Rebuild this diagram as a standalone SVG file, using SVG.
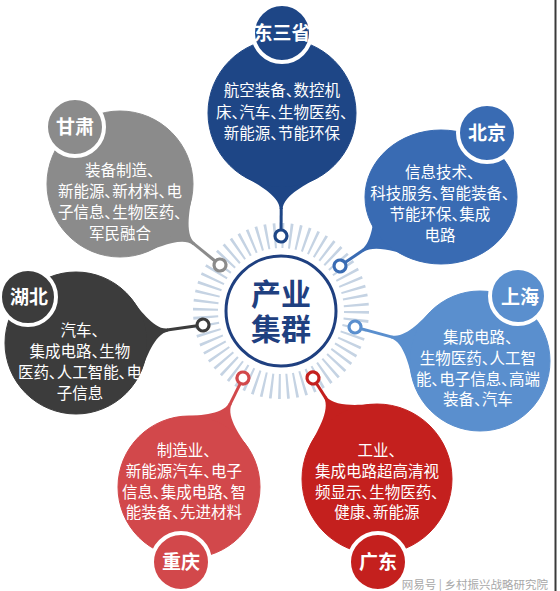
<svg xmlns="http://www.w3.org/2000/svg" width="560" height="591" viewBox="0 0 560 591">
<style>
.t{font-family:"Noto Sans CJK SC","Noto Sans",sans-serif;font-size:15.5px;fill:#fff;text-anchor:middle;font-feature-settings:"palt";}
.l{font-family:"Noto Sans CJK SC","Noto Sans",sans-serif;font-size:19px;font-weight:bold;fill:#fff;text-anchor:middle;}
.lab{stroke:#fff;stroke-width:4;}
.ln{stroke-width:3;fill:none;}
.dot{fill:#fff;stroke-width:3.2;}
.c1{fill:#1e4686;stroke:#1e4686}
.c2{fill:#396bb3;stroke:#396bb3}
.c3{fill:#8b8b8b;stroke:#8b8b8b}
.c4{fill:#3c3c3c;stroke:#3c3c3c}
.c5{fill:#5a8fce;stroke:#5a8fce}
.c6{fill:#d2484b;stroke:#d2484b}
.c7{fill:#c4201e;stroke:#c4201e}
</style>
<rect width="560" height="591" fill="#fff"/>
<line x1="555.5" y1="0" x2="555.5" y2="591" stroke="#3a3a3a" stroke-width="2"/>

<g id="center">
<circle cx="281" cy="311" r="75.5" fill="none" stroke="#c5d3e3" stroke-width="25" stroke-dasharray="2.4 5.5064"/>
<circle cx="281" cy="311" r="55" fill="#fff" stroke="#1f4080" stroke-width="3"/>
<text font-family="'Noto Sans CJK SC',sans-serif" font-size="30" font-weight="bold" fill="#1f4080" text-anchor="middle"><tspan x="281" y="305">产业</tspan><tspan x="281" y="340">集群</tspan></text>
</g>

<g id="connectors">
<g transform="translate(282 113) rotate(90.47)" class="c1">
<path d="M64.1 37 C69.1 28.3 82 1.5 96 1.5 L96 -1.5 C82 -1.5 69.1 -28.3 64.1 -37 Z" stroke="none"/>
<line x1="95" y1="0" x2="117" y2="0" class="ln"/>
<circle cx="123" cy="0" r="6" class="dot"/>
</g>
<g transform="translate(441 197) rotate(145.66)" class="c2">
<path d="M58 33.5 C63 25 81 1.5 95 1.5 L95 -1.5 C81 -1.5 63 -25 58 -33.5 Z" stroke="none"/>
<line x1="94" y1="0" x2="116.3" y2="0" class="ln"/>
<circle cx="122.3" cy="0" r="6" class="dot"/>
</g>
<g transform="translate(120 184) rotate(39)" class="c3">
<path d="M63.2 36.5 C68.2 27.8 81 1.5 95 1.5 L95 -1.5 C81 -1.5 68.2 -27.8 63.2 -36.5 Z" stroke="none"/>
<line x1="94" y1="0" x2="122.7" y2="0" class="ln"/>
<circle cx="128.7" cy="0" r="6" class="dot"/>
</g>
<g transform="translate(76 343) rotate(-8.07)" class="c4">
<path d="M61.5 35.5 C66.5 26.8 79 1.5 93 1.5 L93 -1.5 C79 -1.5 66.5 -26.8 61.5 -35.5 Z" stroke="none"/>
<line x1="92" y1="0" x2="122.3" y2="0" class="ln"/>
<circle cx="128.3" cy="0" r="6" class="dot"/>
</g>
<g transform="translate(480 361) rotate(195.22)" class="c5">
<path d="M60.6 35 C65.6 26.3 78 1.5 92 1.5 L92 -1.5 C78 -1.5 65.6 -26.3 60.6 -35 Z" stroke="none"/>
<line x1="91" y1="0" x2="123.5" y2="0" class="ln"/>
<circle cx="129.5" cy="0" r="6" class="dot"/>
</g>
<g transform="translate(189 487) rotate(-63.65)" class="c6">
<path d="M61.5 35.5 C66.5 26.8 79 1.5 93 1.5 L93 -1.5 C79 -1.5 66.5 -26.8 61.5 -35.5 Z" stroke="none"/>
<line x1="92" y1="0" x2="115.6" y2="0" class="ln"/>
<circle cx="121.6" cy="0" r="6" class="dot"/>
</g>
<g transform="translate(377 479) rotate(-122.36)" class="c7">
<path d="M65 37.5 C70 28.8 83 1.5 97 1.5 L97 -1.5 C83 -1.5 70 -28.8 65 -37.5 Z" stroke="none"/>
<line x1="96" y1="0" x2="113.6" y2="0" class="ln"/>
<circle cx="119.6" cy="0" r="6" class="dot"/>
</g>
</g>

<g id="dongsansheng">
<circle cx="282" cy="113" r="74" class="c1"/>
<circle cx="282" cy="33" r="29" class="c1 lab" style="stroke:#fff"/>
<text x="282" y="40" class="l">东三省</text>
<text class="t"><tspan x="282" y="96">航空装备、数控机</tspan><tspan x="282" y="117.5">床、汽车、生物医药、</tspan><tspan x="282" y="139">新能源、节能环保</tspan></text>
</g>

<g id="beijing">
<ellipse cx="441" cy="197" rx="76" ry="67" class="c2"/>
<circle cx="487" cy="133" r="29" class="c2 lab" style="stroke:#fff"/>
<text x="487" y="140" class="l">北京</text>
<text class="t"><tspan x="440" y="178">信息技术、</tspan><tspan x="440" y="199">科技服务、智能装备、</tspan><tspan x="440" y="220">节能环保、集成</tspan><tspan x="440" y="241">电路</tspan></text>
</g>

<g id="gansu">
<circle cx="120" cy="184" r="73" class="c3"/>
<circle cx="75" cy="127" r="29" class="c3 lab" style="stroke:#fff"/>
<text x="75" y="134" class="l">甘肃</text>
<text class="t"><tspan x="120" y="176">装备制造、</tspan><tspan x="120" y="197">新能源、新材料、电</tspan><tspan x="120" y="218">子信息、生物医药、</tspan><tspan x="120" y="239">军民融合</tspan></text>
</g>

<g id="hubei">
<circle cx="76" cy="343" r="71" class="c4"/>
<circle cx="28" cy="297" r="28" class="c4 lab" style="stroke:#fff"/>
<text x="29" y="304" class="l">湖北</text>
<text class="t"><tspan x="80" y="336">汽车、</tspan><tspan x="80" y="357">集成电路、生物</tspan><tspan x="80" y="378">医药、人工智能、电</tspan><tspan x="80" y="399">子信息</tspan></text>
</g>

<g id="shanghai">
<circle cx="480" cy="361" r="70" class="c5"/>
<circle cx="518" cy="296" r="28" class="c5 lab" style="stroke:#fff"/>
<text x="520" y="304" class="l">上海</text>
<text class="t"><tspan x="478" y="343">集成电路、</tspan><tspan x="478" y="364">生物医药、人工智</tspan><tspan x="478" y="385">能、电子信息、高端</tspan><tspan x="478" y="405">装备、汽车</tspan></text>
</g>

<g id="chongqing">
<circle cx="189" cy="487" r="71" class="c6"/>
<circle cx="181" cy="562" r="29" class="c6 lab" style="stroke:#fff"/>
<text x="181" y="569" class="l">重庆</text>
<text class="t"><tspan x="184" y="456">制造业、</tspan><tspan x="184" y="477">新能源汽车、电子</tspan><tspan x="184" y="498">信息、集成电路、智</tspan><tspan x="184" y="518">能装备、先进材料</tspan></text>
</g>

<g id="guangdong">
<circle cx="377" cy="479" r="75" class="c7"/>
<circle cx="378" cy="562" r="29" class="c7 lab" style="stroke:#fff"/>
<text x="378" y="569" class="l">广东</text>
<text class="t"><tspan x="377" y="456">工业、</tspan><tspan x="377" y="477">集成电路超高清视</tspan><tspan x="377" y="498">频显示、生物医药、</tspan><tspan x="377" y="518">健康、新能源</tspan></text>
</g>

<g id="watermark">
<text x="548" y="589" font-family="'Noto Sans CJK SC',sans-serif" font-size="11.5" fill="#a8a8a8" text-anchor="end">网易号 | 乡村振兴战略研究院</text>
</g>
</svg>
